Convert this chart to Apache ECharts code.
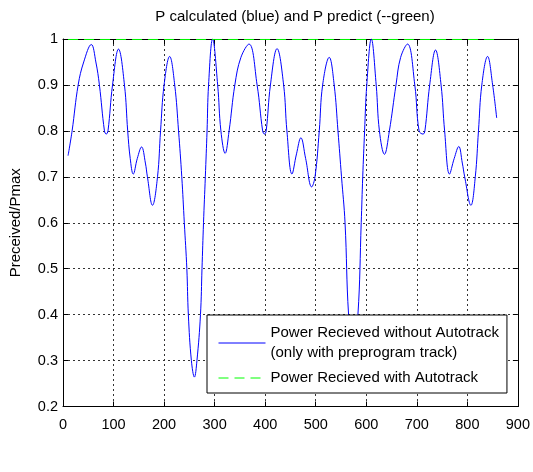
<!DOCTYPE html>
<html>
<head>
<meta charset="utf-8">
<script src="https://cdn.jsdelivr.net/npm/echarts@6/dist/echarts.min.js"></script>
<style>
html,body{margin:0;padding:0;background:#fff;}
#chart{width:533px;height:472px;}
</style>
</head>
<body>
<div id="chart"></div>
<script>
// Blue curve: P calculated (x positions and values)
const blueX = [10,18,30,41,56,65,72,82,85.5,89,98,109.8,121.6,128,133,139,147,155.5,163,167,177,187,193,200,211,221,228.6,235,240,245,248,254,260,265,272,275,278,281.6,285,288,296,306,312.4,320.8,328.6,340,352,368,384,395,398.6,402,410.4,423.5,436.5,443,453,462,470.6,480,492,498.6,507,513.7,526.7,536.5,544,551,558,565,574,583.5,590,593,596.7,601,610,619.6,626,636,645.7,658.8,668,681.6,696,704.5,712.4,716,725.5,737,748,755,764.7,774,783,790,794.7,807,815.7,822,828.6,840,850,858];
const blueY = [0.746,0.80,0.90,0.95,0.988,0.95,0.90,0.80,0.793,0.80,0.90,0.978,0.90,0.80,0.74,0.706,0.74,0.765,0.73,0.70,0.638,0.70,0.80,0.90,0.962,0.90,0.80,0.70,0.60,0.50,0.40,0.30,0.264,0.30,0.40,0.50,0.60,0.70,0.80,0.90,1.0,0.90,0.80,0.751,0.80,0.90,0.96,0.989,0.90,0.80,0.793,0.80,0.90,0.979,0.90,0.80,0.706,0.75,0.785,0.74,0.678,0.70,0.80,0.90,0.96,0.90,0.80,0.70,0.60,0.40,0.32,0.40,0.60,0.70,0.80,0.90,1.0,0.90,0.80,0.749,0.80,0.90,0.96,0.989,0.90,0.80,0.793,0.80,0.90,0.976,0.90,0.80,0.706,0.74,0.766,0.73,0.70,0.638,0.70,0.80,0.90,0.962,0.90,0.828];
// Green curve: P predict
const greenX = [10,100,200,300,400,500,600,700,800,857];
const greenY = [0.999,0.999,0.999,0.999,0.999,0.999,0.999,0.999,0.999,0.999];
// Axis ticks
const xTicks = [0,100,200,300,400,500,600,700,800,900];
const yTicks = [0.2,0.3,0.4,0.5,0.6,0.7,0.8,0.9,1];

const titleText = 'P calculated (blue) and P predict (--green)';
const yName = 'Preceived/Pmax';
const nameBlue = 'Power Recieved without Autotrack\n(only with preprogram track)';
const nameGreen = 'Power Recieved with Autotrack';

const FONT = 'Liberation Sans, Arial, sans-serif';
const chart = echarts.init(document.getElementById('chart'), null, {renderer:'canvas'});

const blueData = blueX.map((x,i)=>[x, blueY[i]]);
const greenData = greenX.map((x,i)=>[x, greenY[i]]);

const gridLine = {show:true, lineStyle:{color:'#333', type:[2,3], width:1}};
function xAx(pos, labels){
  return {type:'value', position:pos, min:xTicks[0], max:xTicks[xTicks.length-1], interval:100,
    axisLine:{show:true, onZero:false, lineStyle:{color:'#000', width:1}},
    axisTick:{show:true, inside:true, length:5, lineStyle:{color:'#000'}},
    axisLabel:{show:labels, color:'#000', fontSize:14.5, fontFamily:FONT, margin:11},
    splitLine: labels ? gridLine : {show:false}};
}
function yAx(pos, labels){
  return {type:'value', position:pos, min:yTicks[0], max:yTicks[yTicks.length-1], interval:0.1,
    name: labels ? yName : '', nameLocation:'middle', nameGap:40,
    nameTextStyle:{color:'#000', fontSize:15, fontFamily:FONT},
    axisLine:{show:true, onZero:false, lineStyle:{color:'#000', width:1}},
    axisTick:{show:true, inside:true, length:5, lineStyle:{color:'#000'}},
    axisLabel:{show:labels, color:'#000', fontSize:14.5, fontFamily:FONT, margin:5,
      formatter:v=>{const r=Math.round(v*10)/10; return r===1?'1':r.toFixed(1);}},
    splitLine: labels ? gridLine : {show:false}};
}

chart.setOption({
  animation:false,
  backgroundColor:'#fff',
  title:{text:titleText, left:290, top:4, textAlign:'center',
    textStyle:{color:'#000', fontSize:15, fontWeight:'normal', fontFamily:FONT}},
  grid:{left:61, right:13.5, top:39, bottom:65.5, containLabel:false},
  xAxis:[xAx('bottom', true), xAx('top', false)],
  yAxis:[yAx('left', true), yAx('right', false)],
  legend:{
    show:true,
    orient:'vertical', left:207, top:315,
    backgroundColor:'#fff', borderColor:'#000', borderWidth:1,
    padding:[8,8,5,11], itemGap:5, itemWidth:47, itemHeight:14,
    itemStyle:{opacity:0},
    lineStyle:{width:1},
    textStyle:{color:'#000', fontSize:15, fontFamily:FONT, lineHeight:20},
    data:[nameBlue, nameGreen],
    selectedMode:false
  },
  series:[
    {name:nameBlue, type:'line', data:blueData, showSymbol:false, symbol:'none', smooth:0.4,
     lineStyle:{color:'#0000ff', width:1}, itemStyle:{color:'#0000ff'}, z:3},
    {name:nameGreen, type:'line', data:greenData, showSymbol:false, symbol:'none',
     lineStyle:{color:'#00ff00', width:1, type:[10,6]}, itemStyle:{color:'#00ff00'}, z:4}
  ]
});
</script>
</body>
</html>
